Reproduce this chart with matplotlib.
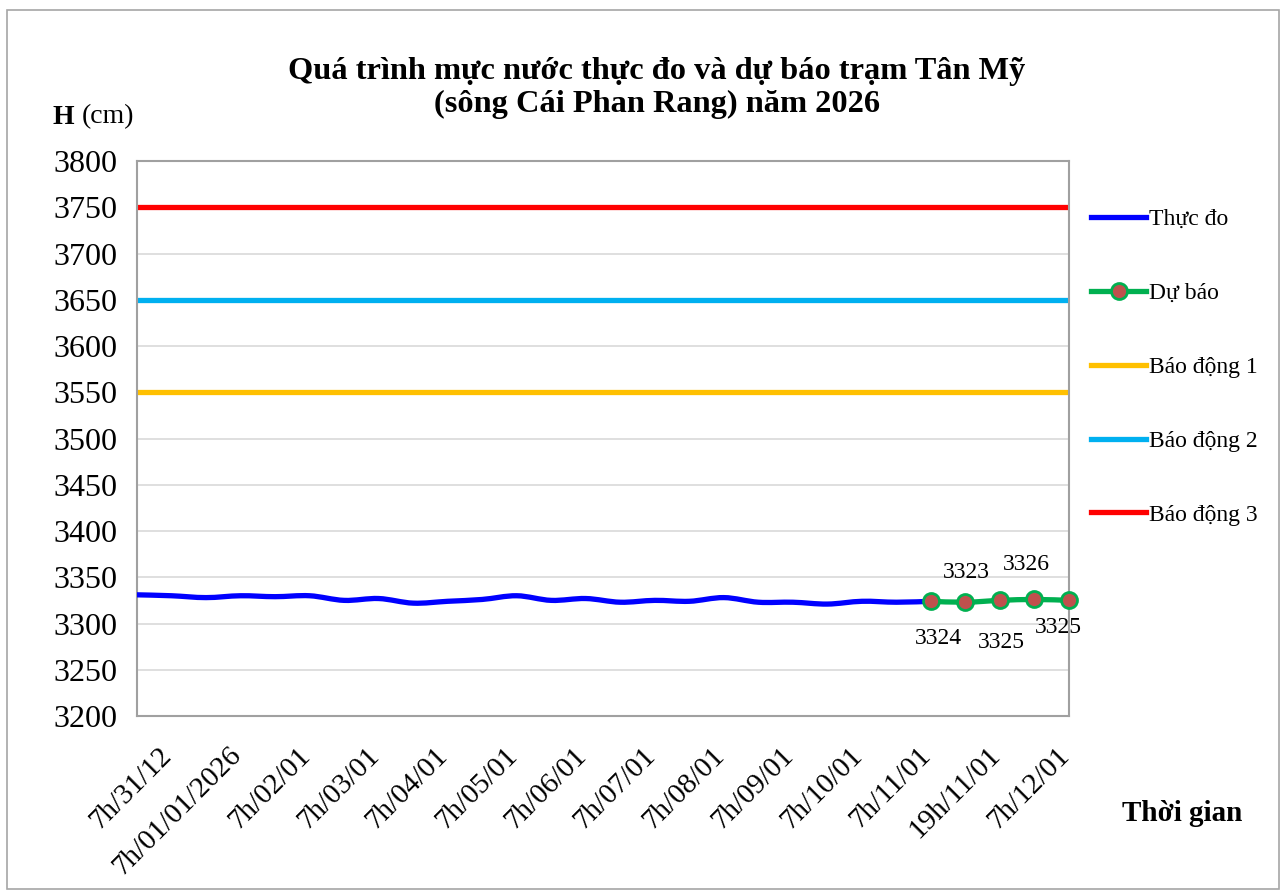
import numpy as np
import matplotlib
matplotlib.use("Agg")
import matplotlib.pyplot as plt
import matplotlib.transforms as mtransforms
from matplotlib.path import Path
from matplotlib.patches import PathPatch, Rectangle
from matplotlib.lines import Line2D

# categories: 19h/30/12 .. 7h/11/01 every 12h, then 6h steps to 7h/12/01
categories = ["19h/30/12", "7h/31/12", "19h/31/12", "7h/01/01/2026", "19h/01/01",
              "7h/02/01", "19h/02/01", "7h/03/01", "19h/03/01", "7h/04/01", "19h/04/01",
              "7h/05/01", "19h/05/01", "7h/06/01", "19h/06/01", "7h/07/01", "19h/07/01",
              "7h/08/01", "19h/08/01", "7h/09/01", "19h/09/01", "7h/10/01", "19h/10/01",
              "7h/11/01", "13h/11/01", "19h/11/01", "1h/12/01", "7h/12/01"]
tick_labels = {1: "7h/31/12", 3: "7h/01/01/2026", 5: "7h/02/01", 7: "7h/03/01", 9: "7h/04/01",
               11: "7h/05/01", 13: "7h/06/01", 15: "7h/07/01", 17: "7h/08/01", 19: "7h/09/01",
               21: "7h/10/01", 23: "7h/11/01", 25: "19h/11/01", 27: "7h/12/01"}

thuc_do = [3331, 3330, 3328, 3330, 3329, 3330, 3325, 3327, 3322, 3324, 3326, 3330,
           3325, 3327, 3323, 3325, 3324, 3328, 3323, 3323, 3321, 3324, 3323, 3324]
du_bao = [3324, 3323, 3325, 3326, 3325]
bao_dong_1 = 3550
bao_dong_2 = 3650
bao_dong_3 = 3750

plt.rcParams['font.family'] = ['Liberation Serif', 'DejaVu Serif']


def smooth_path(xs, ys):
    # Catmull-Rom style bezier, like Excel's smoothed line
    pts = np.column_stack([xs, ys]).astype(float)
    verts = [pts[0]]
    codes = [Path.MOVETO]
    n = len(pts)
    for i in range(n - 1):
        p0 = pts[i - 1] if i > 0 else pts[i]
        p1 = pts[i]
        p2 = pts[i + 1]
        p3 = pts[i + 2] if i + 2 < n else pts[i + 1]
        c1 = p1 + (p2 - p0) / 6.0
        c2 = p2 - (p3 - p1) / 6.0
        verts += [c1, c2, p2]
        codes += [Path.CURVE4] * 3
    return Path(verts, codes)


fig = plt.figure(figsize=(12.87, 8.96), dpi=100)
fig.patches.append(Rectangle((7 / 1287, 1 - 889 / 896), 1272 / 1287, 879 / 896,
                             transform=fig.transFigure, fill=False,
                             edgecolor='#A6A6A6', linewidth=1.2))
ax = fig.add_axes([137 / 1287, 1 - 716 / 896, 932 / 1287, 555 / 896])

n = len(categories)
x_all = np.arange(n)
x_obs = np.arange(len(thuc_do))
x_fc = np.arange(len(thuc_do) - 1, len(thuc_do) - 1 + len(du_bao))

ax.plot(x_all, [bao_dong_1] * n, color='#FFC000', lw=3.8, solid_capstyle='butt')
ax.plot(x_all, [bao_dong_2] * n, color='#00B0F0', lw=3.8, solid_capstyle='butt')
ax.plot(x_all, [bao_dong_3] * n, color='#FF0000', lw=3.8, solid_capstyle='butt')

ax.add_patch(PathPatch(smooth_path(x_obs, thuc_do), facecolor='none',
                       edgecolor='#0000FF', lw=3.8, capstyle='round', zorder=3))
ax.add_patch(PathPatch(smooth_path(x_fc, du_bao), facecolor='none',
                       edgecolor='#00B050', lw=3.8, capstyle='round', zorder=4,
                       clip_on=False))
ax.plot(x_fc, du_bao, ls='none', marker='o', ms=11.5, mfc='#C0504D', mec='#00B050',
        mew=2, zorder=5, clip_on=False)

# data labels (below, above, below, above, below)
offsets = [(8, -37), (1, 30), (1, -42), (-8, 35), (-11, -27)]
for xi, yi, (dx, dy) in zip(x_fc, du_bao, offsets):
    ax.annotate(str(yi), (xi, yi), xytext=(dx * 0.72, dy * 0.72), textcoords='offset points',
                ha='center', va='center', fontsize=17, zorder=6)

ax.set_xlim(0, n - 1)
ax.set_ylim(3200, 3800)
ax.set_yticks(np.arange(3200, 3801, 50))
ax.yaxis.grid(True, color='#D9D9D9', lw=1.2)
ax.set_axisbelow(True)
ax.tick_params(axis='y', length=0, labelsize=23, pad=14)
ax.set_xticks(list(tick_labels.keys()))
ax.set_xticklabels(list(tick_labels.values()), rotation=45, ha='right', va='top',
                   rotation_mode='anchor', fontsize=21)
ax.tick_params(axis='x', length=0, pad=19)
shift = mtransforms.ScaledTranslation(-13 / 100, 0, fig.dpi_scale_trans)
for lab in ax.get_xticklabels():
    lab.set_transform(lab.get_transform() + shift)
for s in ax.spines.values():
    s.set_color('#A0A0A0')
    s.set_linewidth(1.5)

fig.text(657 / 1287, 1 - 88 / 896,
         "Quá trình mực nước thực đo và dự báo trạm Tân Mỹ\n(sông Cái Phan Rang) năm 2026",
         ha='center', va='center', fontsize=23.3, fontweight='bold', linespacing=1.22)
fig.text(52 / 1287, 1 - 117 / 896, "H", ha='left', va='center', fontsize=20, fontweight='bold')
fig.text(82 / 1287, 1 - 117 / 896, "(cm)", ha='left', va='center', fontsize=20)
fig.text(1182 / 1287, 1 - 813 / 896, "Thời gian", ha='center', va='center',
         fontsize=21, fontweight='bold')

handles = [
    Line2D([], [], color='#0000FF', lw=3.8),
    Line2D([], [], color='#00B050', lw=3.8, marker='o', ms=11.5, mfc='#C0504D',
           mec='#00B050', mew=2),
    Line2D([], [], color='#FFC000', lw=3.8),
    Line2D([], [], color='#00B0F0', lw=3.8),
    Line2D([], [], color='#FF0000', lw=3.8),
]
labels = ["Thực đo", "Dự báo", "Báo động 1", "Báo động 2", "Báo động 3"]
fig.legend(handles, labels, loc='upper left', bbox_to_anchor=(1082 / 1287, 1 - 199 / 896),
           frameon=False, fontsize=17, handlelength=2.3, handletextpad=0.15,
           labelspacing=2.22, borderaxespad=0)

fig.savefig("out.png", dpi=100)
